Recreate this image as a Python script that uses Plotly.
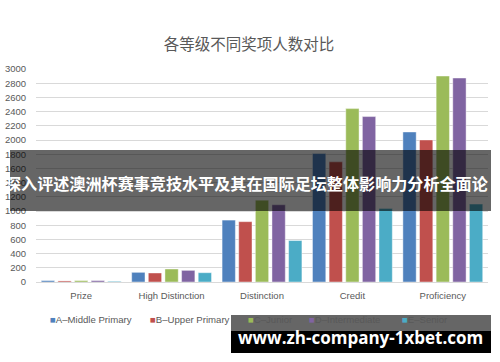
import plotly.graph_objects as go

categories = ["Prize", "High Distinction", "Distinction", "Credit", "Proficiency"]
series_names = ["A–Middle Primary", "B–Upper Primary", "C–Junior", "D–Intermediate", "E–Senior"]
a_middle_primary = [20, 136, 872, 1810, 2113]
b_upper_primary = [15, 127, 850, 1692, 2001]
c_junior = [20, 183, 1153, 2442, 2901]
d_intermediate = [20, 164, 1088, 2330, 2873]
e_senior = [10, 131, 584, 1036, 1097]
series_values = [a_middle_primary, b_upper_primary, c_junior, d_intermediate, e_senior]
y_ticks = list(range(0, 3001, 200))

colors = ["#4F81BD", "#C0504D", "#9BBB59", "#8064A2", "#4BACC6"]

W, H = 500, 362
L, R, T, B = 36, 12, 69, 80
PW, PH = W - L - R, H - T - B


def px_x(x):
    return (x - L) / PW


def px_y(y):
    return (H - B - y) / PH


fig = go.Figure()
for name, vals, col in zip(series_names, series_values, colors):
    fig.add_trace(go.Bar(
        x=categories, y=vals, name=name,
        marker=dict(color=col, line=dict(color="rgba(255,255,255,0.55)", width=0.8)),
        showlegend=False,
    ))

tick_font = dict(family="Liberation Sans, Arial, sans-serif", size=9.5, color="#595959")

fig.update_layout(
    width=W, height=H,
    margin=dict(l=L, r=R, t=T, b=B, autoexpand=False),
    paper_bgcolor="white", plot_bgcolor="white",
    barmode="group", bargap=0.08, bargroupgap=0.2,
    title=dict(text="各等级不同奖项人数对比", x=0.498, xanchor="center", y=1 - 45 / H, yanchor="middle",
               font=dict(family="Noto Sans CJK SC", size=15.5, color="#595959"), automargin=False),
    xaxis=dict(showgrid=False, showline=False, zeroline=False, ticks="outside", ticklen=5,
               tickcolor="rgba(0,0,0,0)", tickfont=tick_font, automargin=False),
    yaxis=dict(range=[0, 3000], tickvals=y_ticks, showgrid=True, gridcolor="#D9D9D9", gridwidth=1,
               zeroline=True, zerolinecolor="#D9D9D9", zerolinewidth=1, showline=False,
               ticks="outside", ticklen=7, tickcolor="rgba(0,0,0,0)", tickfont=tick_font, automargin=False),
)

# manual legend
legend_x = [47.5, 148, 245.5, 307, 399.5]
for name, col, lx in zip(series_names, colors, legend_x):
    fig.add_annotation(
        xref="paper", yref="paper", x=px_x(lx), y=px_y(319), xanchor="left", yanchor="middle",
        showarrow=False,
        text=f'<span style="color:{col}">■</span>{name}',
        font=dict(family="Liberation Sans, Arial, sans-serif", size=9.6, color="#595959"),
    )

# overlay banner
fig.add_shape(type="rect", xref="paper", yref="paper", layer="above",
              x0=px_x(10), x1=px_x(491), y0=px_y(211), y1=px_y(150),
              fillcolor="rgba(0,0,0,0.6)", line=dict(width=0))
fig.add_annotation(xref="paper", yref="paper", x=px_x(246), y=px_y(183), xanchor="center", yanchor="middle",
                   showarrow=False, text="<b>深入评述澳洲杯赛事竞技水平及其在国际足坛整体影响力分析全面论</b>",
                   font=dict(family="Noto Sans CJK SC", size=16.1, color="white"))

# bottom watermark
fig.add_shape(type="rect", xref="paper", yref="paper", layer="above",
              x0=px_x(231), x1=px_x(491), y0=px_y(331), y1=px_y(315),
              fillcolor="rgba(0,0,0,0.6)", line=dict(width=0))
fig.add_shape(type="rect", xref="paper", yref="paper", layer="above",
              x0=px_x(231), x1=px_x(491), y0=px_y(353), y1=px_y(331),
              fillcolor="#000000", line=dict(width=0))
fig.add_annotation(xref="paper", yref="paper", x=px_x(360), y=px_y(337), xanchor="center", yanchor="middle",
                   showarrow=False, text="<b>www.zh-company-1xbet.com</b>",
                   font=dict(family="Open Sans, Noto Sans, sans-serif", size=17, color="white"))

fig.write_html("out.html", config={"displayModeBar": False},
               post_script="document.body.style.margin='0';document.body.style.padding='0';")
